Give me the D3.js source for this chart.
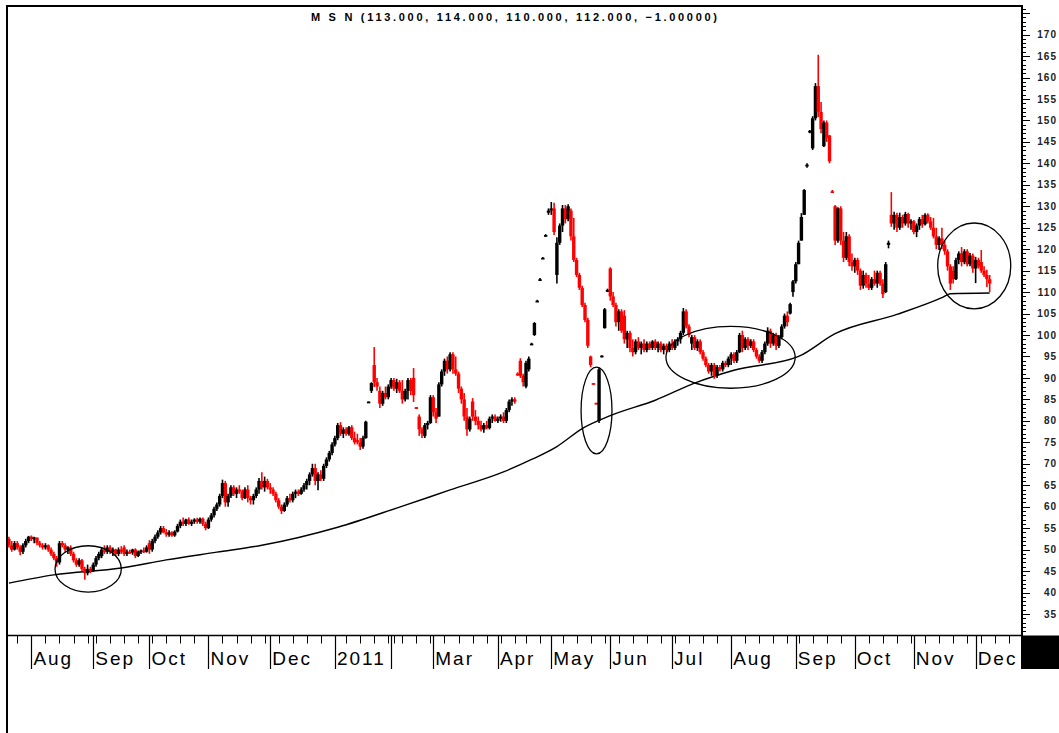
<!DOCTYPE html>
<html><head><meta charset="utf-8">
<script src="https://cdn.jsdelivr.net/npm/d3@7"></script>
<style>html,body{margin:0;padding:0;background:#fff;} svg{display:block;}</style>
</head><body>
<svg id="chart" width="1059" height="733"></svg>
<script>
// ---------- data ----------
const ticker = "MSN";
const firstDay = "2010-07-21";
const lastDay = "2011-12-23";   // last slot of the time axis (data ends earlier)
const holidays = ["2010-09-02","2010-09-03","2011-01-03","2011-02-02","2011-02-03","2011-02-04",
  "2011-02-07","2011-02-08","2011-04-12","2011-04-29","2011-05-02","2011-09-02"];
const monthLabels = ["Aug","Sep","Oct","Nov","Dec","2011","","Mar","Apr","May","Jun","Jul","Aug","Sep","Oct","Nov","Dec"];
const priceTicks = [35,40,45,50,55,60,65,70,75,80,85,90,95,100,105,110,115,120,125,130,135,140,145,150,155,160,165,170];

const open = [
 52.5,51,50,51.5,50.5,49.5,51,52,
 53,52.5,52.8,51.5,51,50.5,51,50,49,48,47,51.5,51,50,50.5,49,47.5,46.5,47.5,45.5,44.5,45.5,
 45,46.5,48,48.5,50,49.5,50.5,49.5,50,49,50,50.5,49,49.5,49.3,50,48.5,49.5,49.8,49.5,
 51.5,50,52,53,54,55,54,53.5,54,53.3,54.2,55.5,56.5,56,57,56,56.5,57,56.5,57.2,56,
 55,57,58,59.5,60.5,62.5,65.5,61,62.5,64.5,63,64,63.5,62,64,62,61.5,62.5,64,66,64.5,66,
 64.5,64,63,61.5,60,59,60.5,62,61.5,63,63.5,63,64,65,66,67.5,69,66,67.5,66.5,69.5,71,72.5,
 74.5,76,79,77,78,77,78.5,76,75.5,75,74,76,84.3,87,93,89,87,84,86.5,85.5,
 88,89.5,87.5,89,87,85,87,89.5,90,83.2,81,78,76.5,79,79.5,
 85.5,82,81,88.5,91.5,94,92,95.5,92,91,87.5,85,81,78,84.5,81,80,79,78,79,78.3,80.5,81,
 80,80.5,81,80,82.5,84.5,85,91,94,90.5,88,92,98,100,108,113,118,123.3,128.5,
 129,129.5,114,121.5,125.5,129.5,127,129,123,117.5,114,111,107,103.5,95,88.8,84.2,80,95,101.6,110.2,
 115.5,109,107,103,105.5,104.5,99,100.5,97,96,98.5,97,98,96.5,98,97,98.5,97,98,96.5,97.5,96.5,
 98,97,98.5,99,100.5,105.5,102,98,99.5,97,98.5,96,94.5,93,91.5,93,90.5,92.5,92,93.5,93,
 94.5,95.5,94,96,100,97,99,97.5,98.5,96.5,95,94,96,98,101,98,100,97.5,99.5,102,104.5,105,110,
 112.5,116.5,122,128,139.5,147.3,143.5,150.5,158,152,144,149.5,146.5,133.5,130,122,129.5,122,118,123,117,
 116,117.5,115,111.5,114,112,111,113,112,114.5,112,110,121,128,126,128,125,127.5,126,128.2,126,
 126.5,124,125.5,127,125.8,128,126.5,125,123,121,122.5,121,119.5,116,115,113,117.5,119,117,119.5,116.5,118.5,
 115.5,117.5,117,115,114,113
];
const high = [
 53,52,52,52,51,51.5,52.5,53.2,
 53.3,53,52.8,52,51.5,51.5,51.2,50.5,49.5,48.5,52,52,51.5,50.8,51,49.5,48,48,47.8,46,46.5,46,
 47,48.5,49.5,50.5,51,51,51,50.5,50.2,50.5,50.8,51,50,50,50.2,50.3,49.8,50,50.5,51,
 52.2,52.5,53.5,54.5,55.5,55.5,54.8,54.5,54.3,54.5,56,57,57.5,57.2,57.5,57,57.3,57.4,57.5,57.5,56.5,
 57.5,58.5,60,61,63,66.3,66,63,65,65,64.5,65,64,64.5,65,62.5,63,64.5,66.7,68,67,66.5,
 65.5,64.5,63.5,62,60.5,61,62.5,63,63.5,64,64,64.5,65.5,66.5,68,70,70,68,68.5,70,71.5,73,75,
 76.5,79.5,79.7,78.5,78.5,78.8,79,77.5,77,76,76.5,80,84.5,89,97.2,90,88,87,88,88.5,
 90,90,89.8,89.5,89.5,87.5,90,90,92.3,83.2,81.5,78.5,79.5,80,86,
 86,83,89,92,94.5,95,96,96,95,91.5,88,86.5,83,81,85.3,82.5,81,80,79.5,80,81,81.5,81.5,
 81,81.5,82,83,85,85.5,85.5,91.3,94.6,91,94,95,98.2,103,108.2,113.3,118.2,123.5,129.5,
 131,130.8,122.8,126,130.3,130.3,130.5,129.5,127.3,118,114.5,111.5,107.5,104,95.2,88.8,84.2,92.3,95.3,106.3,110.8,
 115.8,110,107.5,106,106,105.8,101,101,99,99,99.5,98.5,99,98.5,98.5,98.8,99,98.5,98.5,98,98,98.5,
 99,99,99.5,101,106.3,106,102.5,100,100,99,99,96.5,95,93.5,93.5,93.5,93,93,94,94,95,
 96,96,96.5,100.5,101,99.5,99.5,99,99,97,95.5,96.5,98.5,101.8,101.5,100.5,100.5,100,102.5,105,105.5,107.5,112.8,
 117,122,128.4,134,140,147.8,151,158.7,165.3,154.3,150,150,146.6,133.8,130.3,129.8,130,124,124,123.5,119,
 118,118,115.5,115,114.5,114,113.5,115,115,115,113,117,122,133.3,128.7,128.5,128.5,128,128.7,128.5,127,
 126.8,126,127.5,128,128.4,128.4,127.5,127.3,125,123,125,122,120,116.5,116,118,119.5,120.5,120,120,119.1,119,
 118.2,118,119.8,116,115.2,114
];
const low = [
 50.5,49.5,49.8,50,48.7,49,50.5,51.5,
 52,51.5,51,50.5,50,50,49.5,48.5,47.5,46,46.5,50.5,49.5,49,48.5,47,46,46,45,43,44,44.5,
 44.8,46,47.5,48,49,49,49,48.5,48.5,48.5,49,48.5,48.5,49,48.8,48,48.3,49,49.2,49.3,
 49,49.5,51.5,52.5,53.5,53.8,53,53,53,53,54,55,55.5,55.5,55.8,55.5,56,56,56,55.5,54.5,
 54.8,56.5,57.5,59,60,62,60,60,62,62.5,62,63,61.5,61.8,61,60.5,60.5,62,63,64,63.5,64,
 63,62.5,61,59.5,58.3,58.8,60,61,61,62,62.5,62.8,63.5,64,65,67,65,63.8,66,66,69,70.5,72,
 74,75.5,76.5,76,76.5,76.5,75.5,74.5,74.5,73.2,73.5,75.8,84.3,86.5,87.9,87,83,83.5,85,85,
 87.5,87,86.5,86.5,84,84.5,85,86,84.4,82.8,76.5,76,76,78,79.3,
 81,79.5,81,88,90.5,91,91.5,91,90.5,86.5,84,80,76.5,77.5,80,79,78,77.5,77.2,78,78,79.5,79.8,
 79.5,79.8,79.5,79.5,82,83.5,84,90.5,90,88,87.6,91.5,97.8,99.8,107.8,112.7,117.8,123,128,
 128,123.3,112,121,124,126,126.5,122,117,113.5,110.5,106.5,103,97,92.5,88.6,84,79.5,94.8,101.5,110,
 108,106.5,102,101,100.5,98,97,96,95,95.5,96.5,95.5,96,96,96.5,96.5,96.5,96,96,95.5,96,96,
 96.5,96.5,97.5,98,100,101.5,99.5,96.5,96.5,96.3,95.5,94,92.5,91,90.5,89.8,90,91.5,91.5,92.5,92.5,
 93,93.5,93.5,95.8,96,96.5,96.5,97,96,94.5,93.5,93.5,95.5,97.5,97,97.5,96.5,97,99,101.5,102,104.8,108.9,
 112,116.5,122,128,139,147,143.1,150,150.8,147,143.8,145,140,133.2,121,121.5,121,117,117.5,116,115,
 114.5,114,110.5,110.8,111,110.5,110.5,111.5,111,111.5,108.6,109.8,120.2,125.2,124.5,124,124.5,125,125.5,125,124.5,
 123.5,122.8,124.5,125,125.5,126,124.5,122.5,120,119.8,120,118.7,115,110.5,112,112.8,116.5,116,116.5,116,116,114.5,
 112.1,115.5,114.5,113.5,111.2,110
];
const close = [
 51,50,51.5,50.5,49.5,51,52,53,
 52.5,52.8,51.5,51,50.5,51,50,49,48,47,51.5,51,50,50.5,49,47.5,46.5,47.5,45.5,44.5,45.5,45,
 46.5,48,49,50,49.5,50.5,49.5,50,49,50,49.5,49,49.5,49.3,50,48.5,49.5,49.8,49.5,50.5,
 50,52,53,54,55,54,53.5,54,53.3,54.2,55.5,56.5,56,57,56,56.5,57,56.5,57.2,56,55,
 57,58,59.5,60.5,62.5,65.5,61,62.5,64.5,63,64,63.5,62,64,62,61.5,62.5,64,66,64.5,66,64.5,
 64,63,61.5,60,59,60.5,62,61.5,63,63.5,63,64,65,66,67.5,69,66,67.5,66.5,69.5,71,72.5,74.5,
 76,79,77,78,77,78.5,76,75,75,74,76,79.8,84.5,88.8,89,88,84,86.5,85.5,88,
 89.5,87.5,89,87,85,87,89.5,87,86,82.8,78,77,79,79.5,85.5,
 82,80.5,88.5,91.5,94,92,95.5,92,91,87.5,85,81,78,80.5,81,80,79,78,79,78.3,80.5,81,80,
 80.5,81,80,82.5,84.5,85,84.5,90.8,90.5,89,93.5,94.5,98,102.8,108,113,118,123.3,129,
 129.5,124,121.5,125.5,129.5,127,130,123,117.5,114,111,107,103.5,97.5,93,88.6,84,92,95.2,106,110.5,
 109,107,103,105.5,101,99,100.5,97,96,98.5,97,98,96.5,98,97,98.5,97,98,96.5,97.5,96.5,98,
 97,98.5,99,100.5,105.5,102,100,99.5,97,98.5,96,94.5,93,91.5,93,90.5,92.5,92,93.5,93,94.5,
 95.5,94,96,100,97,99,97.5,98.5,96.5,95,94,96,98,101,98,100,97.5,99.5,102,104.5,103,107.2,112.5,
 116.5,121.5,127.5,133.8,139.7,147.6,150.5,158,152,148,149.5,146,140.5,133.3,122,129.5,122,118,123,117,116,
 117.5,115,111.5,114,112,111,113,112,114.5,112,109.5,116.5,121.5,126,128,125,127.5,126,128.2,126,126.5,
 124,125.5,127,125.8,128,126.5,125,123,121,122.5,121,119.5,116,112,113,117.5,119,117,119.5,116.5,118.5,115.5,
 117.5,116,115,114,113,112
];

// moving-average curve (trading-day index, value)
const maDay   = [0, 16, 40, 56, 74, 90, 117, 139, 157, 176, 186, 195, 204, 214, 230, 244, 258, 281, 294, 316, 332, 335, 349];
const maValue = [42.2, 44.1, 45.7, 47.6, 49.4, 51.0, 55.2, 59.9, 63.9, 68.1, 71.0, 74.0, 78.2, 81.2, 84.8, 88.8, 91.8, 95.0, 100.3, 104.8, 108.7, 109.6, 109.8];

// hand-drawn ellipses: centre (trading-day index, price), half-width in days, half-height in price
const noteDay   = [28.2, 209.1, 256.8, 343.5];
const notePrice = [45.5, 82.4, 94.8, 116.1];
const noteDays  = [11.8, 5.5, 23.0, 13.0];
const noteRange = [5.4, 10.1, 7.2, 10.0];

// ---------- chart ----------
const svg = d3.select("#chart");
const W = 1059, H = 733;
const axisX = 1022, axisY = 635.5;

const hol = new Set(holidays);
const fmt = d3.utcFormat("%Y-%m-%d");
const days = d3.utcDay.range(new Date(firstDay + "T00:00Z"), d3.utcDay.offset(new Date(lastDay + "T00:00Z"), 1))
  .filter(d => d.getUTCDay() !== 0 && d.getUTCDay() !== 6 && !hol.has(fmt(d)));

const x = d3.scaleBand().domain(days).range([7.5, axisX]).padding(0);
const xi = d3.scaleLinear().domain([0, days.length]).range(x.range()); // fractional day index
const y = d3.scaleLinear().domain([30.1, 176.2]).range([635, 8]);
const xc = i => x(days[i]) + x.bandwidth() / 2;

const bars = open.map((o, i) => ({ i, o, h: high[i], l: low[i], c: close[i] }));

svg.append("rect").attr("width", W).attr("height", H).attr("fill", "#fff");

// moving average
const ma = maDay.map((d, k) => ({ d, v: maValue[k] }));
svg.append("path").datum(ma)
  .attr("fill", "none").attr("stroke", "#000").attr("stroke-width", 1.4)
  .attr("d", d3.line().x(p => xi(p.d + 0.5)).y(p => y(p.v)).curve(d3.curveMonotoneX));

// candles
const g = svg.append("g");
const col = b => (b.c < b.o ? "#ff0000" : "#000");
g.selectAll("line.wick").data(bars).join("line")
  .attr("x1", b => xc(b.i)).attr("x2", b => xc(b.i))
  .attr("y1", b => y(b.h)).attr("y2", b => y(b.l))
  .attr("stroke", col).attr("stroke-width", 1.6);
g.selectAll("rect.body").data(bars).join("rect")
  .attr("x", b => xc(b.i) - 1.7).attr("width", 3.4)
  .attr("y", b => y(Math.max(b.o, b.c)))
  .attr("height", b => Math.max(1.8, Math.abs(y(b.o) - y(b.c))))
  .attr("fill", col);

// ellipses
const notes = noteDay.map((d, k) => ({ d, p: notePrice[k], rd: noteDays[k], rp: noteRange[k] }));
svg.selectAll("ellipse.note").data(notes).join("ellipse")
  .attr("cx", n => xi(n.d + 0.5)).attr("cy", n => y(n.p))
  .attr("rx", n => xi(n.rd) - xi(0)).attr("ry", n => y(n.p - n.rp) - y(n.p))
  .attr("fill", "none").attr("stroke", "#000").attr("stroke-width", 1.3);

// frame
svg.append("line").attr("x1", 7).attr("x2", 7).attr("y1", 5).attr("y2", H).attr("stroke", "#000").attr("stroke-width", 2);
svg.append("line").attr("x1", 6).attr("x2", axisX + 1).attr("y1", 6).attr("y2", 6).attr("stroke", "#000").attr("stroke-width", 2);
svg.append("line").attr("x1", axisX).attr("x2", axisX).attr("y1", 5).attr("y2", axisY + 1).attr("stroke", "#000").attr("stroke-width", 2);
svg.append("line").attr("x1", 6).attr("x2", axisX).attr("y1", axisY).attr("y2", axisY).attr("stroke", "#000").attr("stroke-width", 1.6);
svg.append("rect").attr("x", axisX - 1).attr("y", axisY).attr("width", W - axisX + 1).attr("height", 669 - axisY).attr("fill", "#000");

// right price axis
const minor = d3.range(31, 177, 1);
svg.append("g").selectAll("line").data(minor).join("line")
  .attr("x1", axisX).attr("x2", v => axisX + (v % 5 === 0 ? 8 : 4))
  .attr("y1", v => Math.round(y(v)) + 0.5).attr("y2", v => Math.round(y(v)) + 0.5)
  .attr("stroke", "#000").attr("stroke-width", 1);
svg.append("g").selectAll("text").data(priceTicks).join("text")
  .attr("x", 1057).attr("y", v => y(v)).attr("dy", "0.36em")
  .attr("text-anchor", "end")
  .style("font", "bold 10px 'Liberation Sans', Arial, sans-serif")
  .style("letter-spacing", "1px").attr("fill", "#222")
  .text(v => v);

// bottom time axis
const weekStarts = days.map((d, i) => i).filter(i => i > 0 &&
  +d3.utcMonday.floor(days[i]) !== +d3.utcMonday.floor(days[i - 1]));
const monthStarts = days.map((d, i) => i).filter(i => i > 0 && days[i].getUTCMonth() !== days[i - 1].getUTCMonth())
  .slice(0, monthLabels.length);
svg.append("g").selectAll("line").data(weekStarts).join("line")
  .attr("x1", i => Math.round(xc(i)) + 0.5).attr("x2", i => Math.round(xc(i)) + 0.5)
  .attr("y1", axisY).attr("y2", axisY + 8)
  .attr("stroke", "#000").attr("stroke-width", 1);
svg.append("clipPath").attr("id", "lblclip").append("rect").attr("x", 0).attr("y", axisY).attr("width", axisX).attr("height", 669 - axisY);
const mg = svg.append("g").attr("clip-path", "url(#lblclip)");
mg.selectAll("line").data(monthStarts).join("line")
  .attr("x1", i => Math.round(xc(i)) + 0.5).attr("x2", i => Math.round(xc(i)) + 0.5)
  .attr("y1", axisY).attr("y2", 669)
  .attr("stroke", "#000").attr("stroke-width", 1.2);
mg.selectAll("text").data(monthStarts).join("text")
  .attr("x", i => xc(i) + 2).attr("y", 665)
  .style("font", "19px 'Liberation Sans', Arial, sans-serif")
  .style("letter-spacing", "2px").attr("fill", "#000")
  .text((i, k) => monthLabels[k]);

// title built from the last bar
const n = close.length - 1;
const f3 = d3.format(".3f"), f5 = d3.format(".5f");
svg.append("text").attr("x", 514).attr("y", 21).attr("text-anchor", "middle")
  .attr("textLength", 406).attr("lengthAdjust", "spacing")
  .style("font", "bold 11px 'Liberation Sans', Arial, sans-serif").attr("fill", "#000")
  .text(`${ticker.split("").join(" ")} (${f3(open[n])}, ${f3(high[n])}, ${f3(low[n])}, ${f3(close[n])}, ${f5(close[n] - close[n - 1])})`);
</script>
</body></html>
